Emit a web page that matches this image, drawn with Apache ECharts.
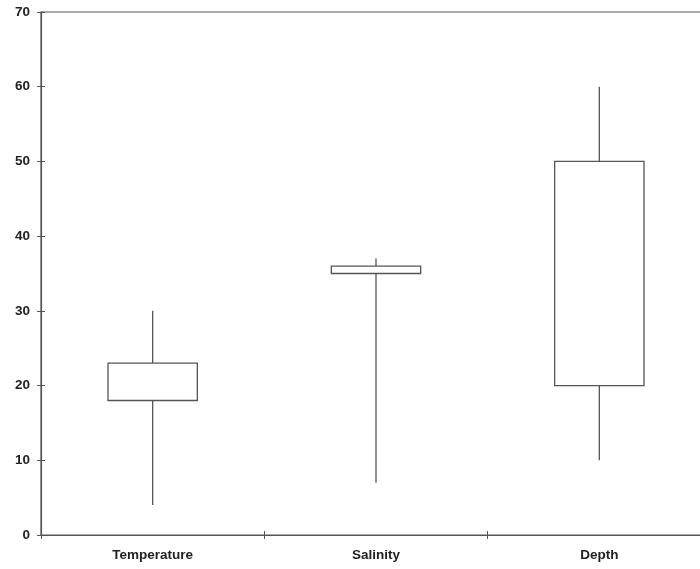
<!DOCTYPE html>
<html>
<head>
<meta charset="utf-8">
<script src="https://cdn.jsdelivr.net/npm/echarts@6/dist/echarts.min.js"></script>
<style>html,body{margin:0;padding:0;background:#fff;}#c{width:700px;height:569px;}</style>
</head>
<body>
<div id="c"></div>
<script>
var categories = ['Temperature', 'Salinity', 'Depth'];
var minValues = [4, 7, 10];
var q1Values = [18, 35, 20];
var q3Values = [23, 36, 50];
var maxValues = [30, 37, 60];
var yTicks = [0, 10, 20, 30, 40, 50, 60, 70];

var data = categories.map(function (c, i) {
  return [i, minValues[i], q1Values[i], q3Values[i], maxValues[i]];
});

var lineColor = '#555';
var labelStyle = { color: '#222', fontFamily: 'Liberation Sans', fontWeight: 'bold', fontSize: 13.5 };
var chart = echarts.init(document.getElementById('c'));
chart.setOption({
  animation: false,
  grid: { left: 41, top: 12, width: 670, height: 523, outerBoundsMode: 'none', containLabel: false, show: true, borderColor: lineColor, borderWidth: 1.2 },
  xAxis: [{
    type: 'category',
    data: categories,
    axisLine: { lineStyle: { color: lineColor, width: 1.2 } },
    axisTick: { show: true, length: 4, lineStyle: { color: lineColor } },
    axisLabel: Object.assign({ margin: 13 }, labelStyle),
    splitLine: { show: false }
  }, {
    type: 'category',
    data: categories,
    position: 'bottom',
    axisLine: { show: false },
    axisTick: { show: true, inside: true, length: 4, lineStyle: { color: lineColor } },
    axisLabel: { show: false },
    splitLine: { show: false }
  }],
  yAxis: [{
    type: 'value',
    min: yTicks[0],
    max: yTicks[yTicks.length - 1],
    interval: 10,
    axisLine: { show: true, lineStyle: { color: lineColor, width: 1.2 } },
    axisTick: { show: true, length: 4, lineStyle: { color: lineColor } },
    axisLabel: Object.assign({ margin: 11 }, labelStyle),
    splitLine: { show: false }
  }, {
    type: 'value',
    position: 'left',
    min: yTicks[0],
    max: yTicks[yTicks.length - 1],
    interval: 10,
    axisLine: { show: false },
    axisTick: { show: true, inside: true, length: 4, lineStyle: { color: lineColor } },
    axisLabel: { show: false },
    splitLine: { show: false }
  }],
  series: [{
    type: 'custom',
    data: data,
    encode: { x: 0, y: [1, 2, 3, 4] },
    renderItem: function (params, api) {
      var x = api.value(0);
      var pMin = api.coord([x, api.value(1)]);
      var pQ1 = api.coord([x, api.value(2)]);
      var pQ3 = api.coord([x, api.value(3)]);
      var pMax = api.coord([x, api.value(4)]);
      var w = api.size([1, 0])[0] * 0.4;
      var style = { stroke: lineColor, lineWidth: 1.3, fill: null };
      return {
        type: 'group',
        children: [
          { type: 'line', shape: { x1: pMax[0], y1: pMax[1], x2: pQ3[0], y2: pQ3[1] }, style: style },
          { type: 'line', shape: { x1: pQ1[0], y1: pQ1[1], x2: pMin[0], y2: pMin[1] }, style: style },
          { type: 'rect', shape: { x: pQ3[0] - w / 2, y: pQ3[1], width: w, height: pQ1[1] - pQ3[1] }, style: { stroke: lineColor, lineWidth: 1.3, fill: '#fff' } }
        ]
      };
    }
  }]
});
</script>
</body>
</html>
